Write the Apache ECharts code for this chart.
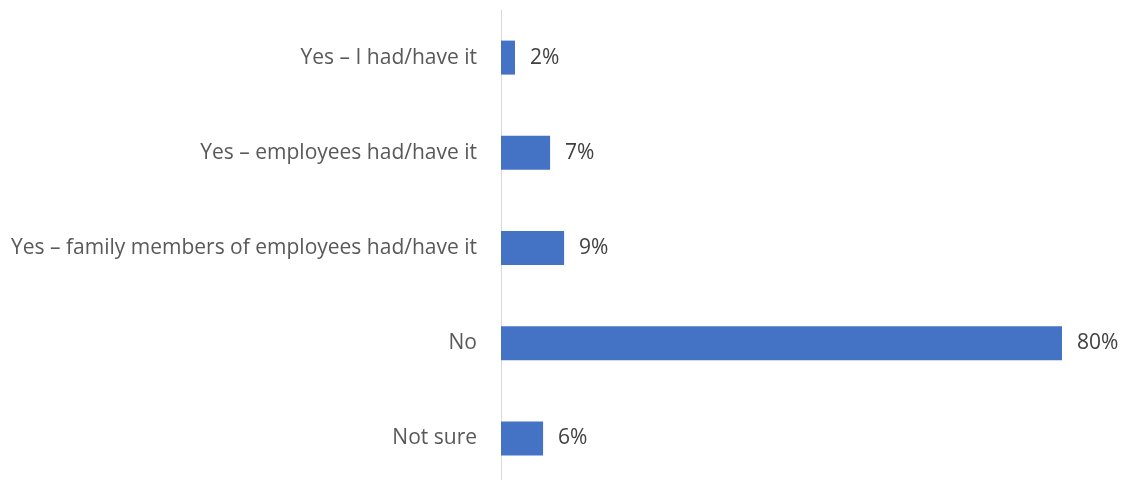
<!DOCTYPE html>
<html>
<head>
<meta charset="utf-8">
<script src="https://cdn.jsdelivr.net/npm/echarts@6/dist/echarts.min.js"></script>
<style>
  html, body { margin: 0; padding: 0; background: #ffffff; overflow: hidden; }
  #chart { width: 1127px; height: 487px; }
</style>
</head>
<body>
<div id="chart"></div>
<script>
// Survey answers, top to bottom
const categories = [
  'Yes \u2013 I had/have it',
  'Yes \u2013 employees had/have it',
  'Yes \u2013 family members of employees had/have it',
  'No',
  'Not sure'
];
// Share of respondents, percent
const shares = [2, 7, 9, 80, 6];

const FONT = '"Open Sans", sans-serif';

const chart = echarts.init(document.getElementById('chart'), null, { renderer: 'canvas' });

chart.setOption({
  animation: false,
  backgroundColor: '#ffffff',
  textStyle: { fontFamily: FONT },
  grid: { left: 501, right: 65, top: 10, bottom: 1, containLabel: false },
  xAxis: {
    type: 'value',
    min: 0,
    max: 80,
    show: false
  },
  yAxis: {
    type: 'category',
    data: categories,
    inverse: true,
    axisLine: { show: true, lineStyle: { color: '#d9d9d9', width: 1 } },
    axisTick: { show: false },
    axisLabel: { color: '#595959', fontSize: 21, margin: 24, fontFamily: FONT }
  },
  series: [{
    type: 'bar',
    data: shares,
    barWidth: 34,
    itemStyle: { color: '#4472C4' },
    label: {
      show: true,
      position: 'right',
      distance: 15,
      color: '#404040',
      fontSize: 21,
      fontFamily: FONT,
      formatter: p => p.value + '%'
    }
  }]
});
</script>
</body>
</html>
